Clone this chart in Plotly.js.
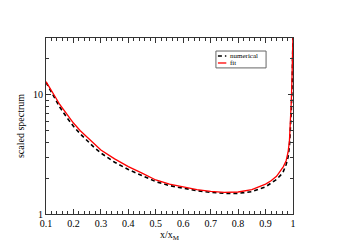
<!DOCTYPE html>
<html><head><meta charset="utf-8">
<script src="https://cdn.plot.ly/plotly-3.0.1.min.js"></script>
<style>html,body{margin:0;padding:0;background:#fff}</style>
</head><body>
<div id="chart" style="width:351px;height:248px"></div>
<script>
const xs = [0.1, 0.11, 0.12, 0.135, 0.15, 0.175, 0.2, 0.225, 0.25, 0.275, 0.3, 0.35, 0.4, 0.45, 0.5, 0.55, 0.6, 0.65, 0.7, 0.75, 0.8, 0.85, 0.9, 0.92, 0.94, 0.955, 0.965, 0.975, 0.982, 0.987, 0.991, 0.994, 0.997, 0.999, 1.0];
const numerical = [12.7, 11.6, 10.6, 9.1, 7.9, 6.5, 5.45, 4.7, 4.1, 3.63, 3.25, 2.72, 2.36, 2.1, 1.87, 1.73, 1.64, 1.57, 1.52, 1.49, 1.49, 1.54, 1.69, 1.8, 1.95, 2.12, 2.28, 2.6, 3.0, 3.7, 5.0, 7.5, 13, 24, 32];
const fit = [12.9, 11.9, 11.0, 9.5, 8.3, 6.9, 5.8, 5.0, 4.4, 3.9, 3.45, 2.9, 2.5, 2.2, 1.93, 1.78, 1.68, 1.6, 1.55, 1.52, 1.53, 1.6, 1.78, 1.9, 2.07, 2.3, 2.5, 2.8, 3.3, 4.1, 5.8, 9, 16, 26, 32];
const seriesNames = ['numerical', 'fit'];
const yTickVals = [1, 10];
const yTickText = ['1', '10'];
const yMinorVals = [2, 3, 4, 5, 6, 7, 8, 9, 20, 30];

const fam = 'Liberation Serif, Times New Roman, serif';
const font = {family: fam, color: '#000'};
const traces = [
  {x: xs, y: numerical, name: seriesNames[0], mode: 'lines', line: {color: '#000', width: 1.6, dash: '4px,3px'}},
  {x: xs, y: fit, name: seriesNames[1], mode: 'lines', line: {color: '#ff0000', width: 1.3}}
];
// hand-made legend (paper coordinates)
const lg = {x0: 0.688, x1: 0.891, y0: 0.83, y1: 0.926, lx0: 0.696, lx1: 0.73, tx: 0.738, ys: [0.898, 0.858]};
const shapes = [
  {type: 'rect', xref: 'paper', yref: 'paper', x0: lg.x0, x1: lg.x1, y0: lg.y0, y1: lg.y1, line: {color: '#666', width: 1}, fillcolor: '#fff'},
  {type: 'line', xref: 'paper', yref: 'paper', x0: lg.lx0, x1: lg.lx1, y0: lg.ys[0], y1: lg.ys[0], line: {color: '#000', width: 1.6, dash: '4px,3px'}},
  {type: 'line', xref: 'paper', yref: 'paper', x0: lg.lx0, x1: lg.lx1, y0: lg.ys[1], y1: lg.ys[1], line: {color: '#ff0000', width: 1.3}}
];
const annotations = seriesNames.map((n, i) => ({
  xref: 'paper', yref: 'paper', x: lg.tx, y: lg.ys[i], xanchor: 'left', yanchor: 'middle',
  text: n, showarrow: false, font: {family: fam, size: 7, color: '#000'}
}));
const layout = {
  width: 351, height: 248,
  margin: {l: 46, r: 58, t: 38, b: 34},
  paper_bgcolor: '#fff', plot_bgcolor: '#fff',
  font: Object.assign({size: 9}, font),
  showlegend: false,
  shapes: shapes, annotations: annotations,
  xaxis: {
    range: [0.1, 1.0], tick0: 0.1, dtick: 0.1, ticks: 'inside', ticklen: 5, tickwidth: 1, tickcolor: '#333',
    showline: true, linecolor: '#333', linewidth: 1, mirror: 'ticks', showgrid: false, zeroline: false,
    tickfont: Object.assign({size: 10}, font),
    minor: {dtick: 0.02, ticks: 'inside', ticklen: 3, tickcolor: '#333', showgrid: false},
    title: {text: 'x/x<sub>M</sub>', font: Object.assign({size: 10}, font), standoff: 1}
  },
  yaxis: {
    type: 'log', range: [0, Math.log10(30)], tickmode: 'array', tickvals: yTickVals, ticktext: yTickText,
    ticks: 'inside', ticklen: 5, tickwidth: 1, tickcolor: '#333',
    showline: true, linecolor: '#333', linewidth: 1, mirror: 'ticks', showgrid: false, zeroline: false,
    tickfont: Object.assign({size: 10}, font),
    minor: {tickmode: 'array', tickvals: yMinorVals, ticks: 'inside', ticklen: 3, tickcolor: '#333', showgrid: false},
    title: {text: 'scaled spectrum', font: Object.assign({size: 10}, font), standoff: 6}
  }
};
Plotly.newPlot('chart', traces, layout, {displayModeBar: false, staticPlot: true});
</script>
</body></html>
